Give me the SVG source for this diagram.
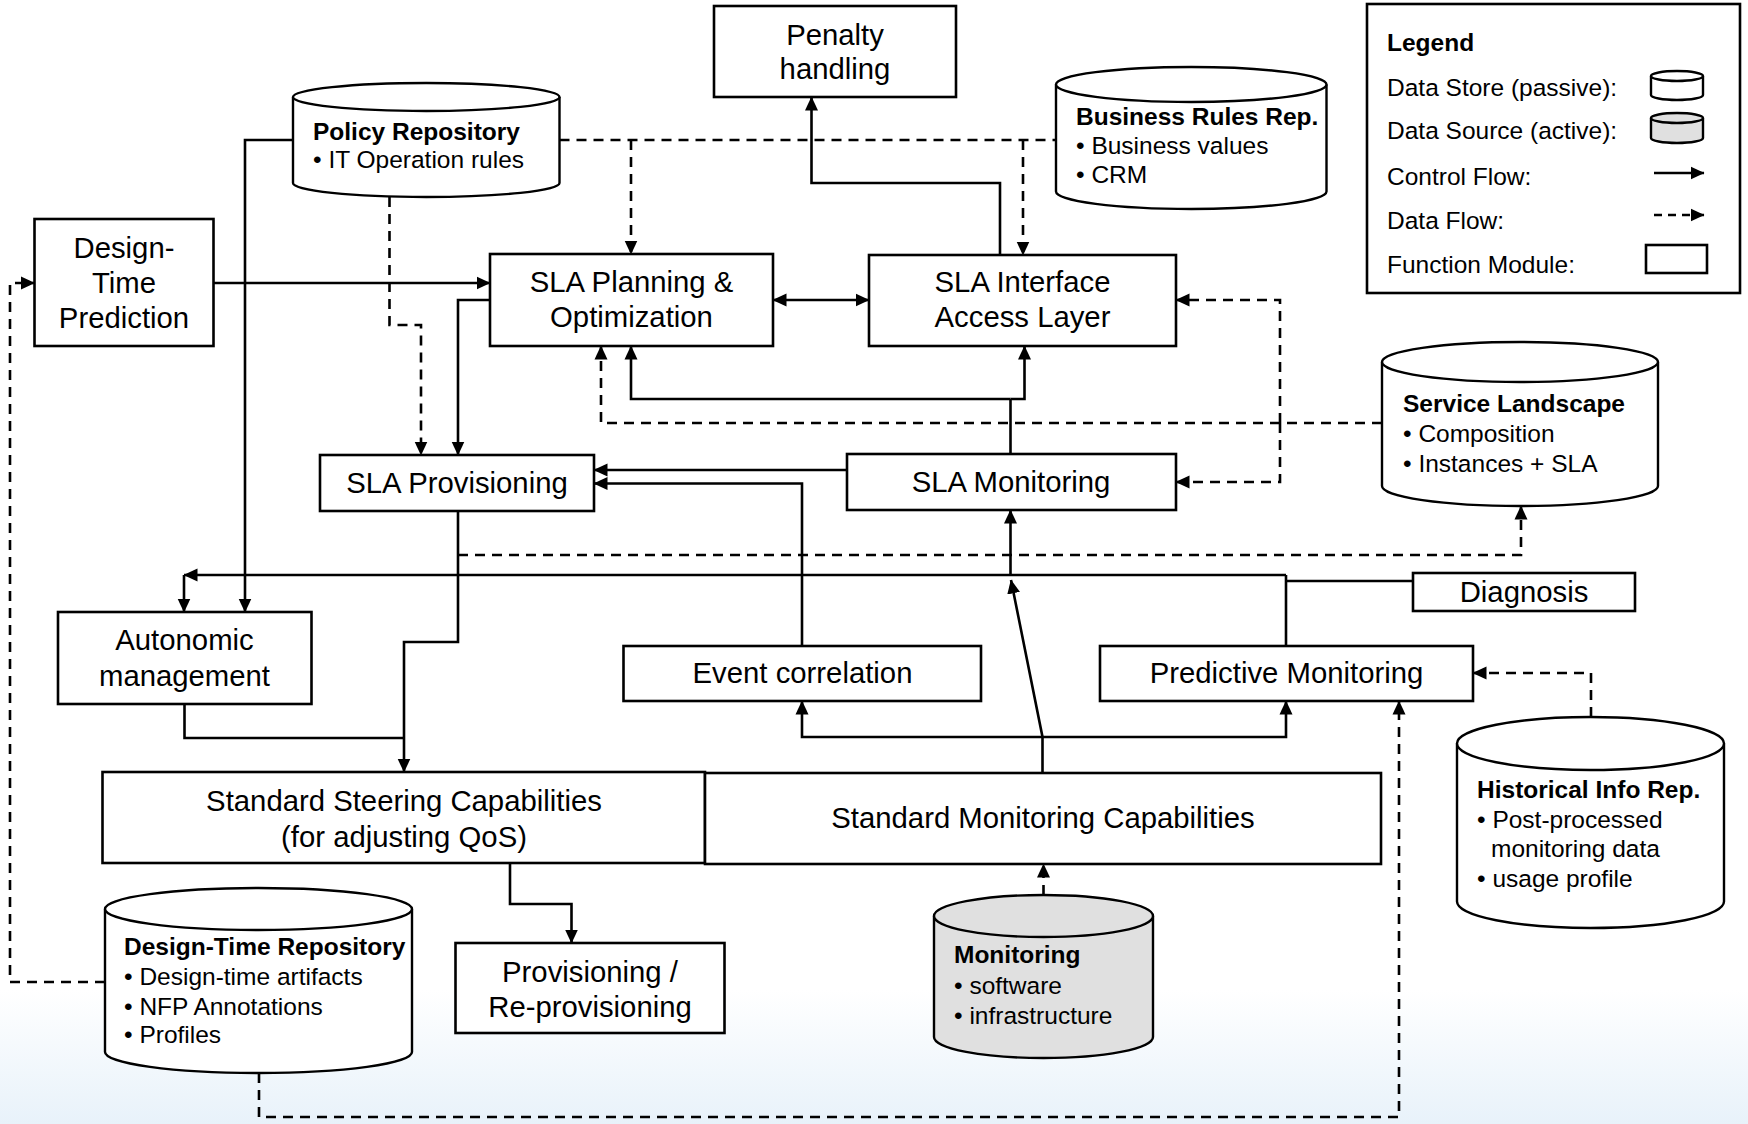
<svg xmlns="http://www.w3.org/2000/svg" width="1748" height="1124" viewBox="0 0 1748 1124">
  <defs>
    <style>
      .box { fill: #ffffff; stroke: #000000; stroke-width: 2.6; }
      .cyl { fill: #ffffff; stroke: #000000; stroke-width: 2.4; }
      .src { fill: #e0e0e0; }
      .c { fill: none; stroke: #000000; stroke-width: 2.6; }
      .d { fill: none; stroke: #000000; stroke-width: 2.6; stroke-dasharray: 10 7; }
      .ca { marker-end: url(#ah); }
      text { font-family: "Liberation Sans", Arial, Helvetica, sans-serif; fill: #000000; }
      .t { font-size: 29.3px; text-anchor: middle; }
      .s { font-size: 24.5px; }
      .b { font-weight: bold; }
    </style>
    <marker id="ah" viewBox="0 0 14 14" refX="13.5" refY="7" markerWidth="14" markerHeight="14" markerUnits="userSpaceOnUse" orient="auto-start-reverse">
      <path d="M0,0.5 L14,7 L0,13.5 z" fill="#000000"/>
    </marker>
    <linearGradient id="floor" x1="0" y1="0" x2="0" y2="1">
      <stop offset="0" stop-color="#ffffff"/>
      <stop offset="1" stop-color="#e8f2fa"/>
    </linearGradient>
  </defs>

  <!-- page background with a soft blue fade at the bottom -->
  <rect x="0" y="0" width="1748" height="1124" fill="#ffffff"/>
  <rect x="0" y="990" width="1748" height="134" fill="url(#floor)"/>

  <!-- connectors -->
  <g id="connectors">
    <!-- control flow -->
    <path class="c ca" d="M213.5,283 H490"/>
    <path class="c ca" d="M293,140 H245 V612"/>
    <path class="c ca" d="M490,300 H458 V455"/>
    <path class="c" d="M773,300 H869" marker-start="url(#ah)" marker-end="url(#ah)"/>
    <path class="c ca" d="M1000,255 V183 H811.5 V97"/>
    <path class="c ca" d="M1010.5,399 H1024.5 V346"/>
    <path class="c ca" d="M1010.5,399 H631 V346"/>
    <path class="c" d="M1010.5,454 V399"/>
    <path class="c ca" d="M847,470 H594"/>
    <path class="c ca" d="M802,646 V483.5 H594"/>
    <path class="c ca" d="M1010.5,575 V510"/>
    <path class="c ca" d="M1286,575 H184"/>
    <path class="c ca" d="M184,575 V612"/>
    <path class="c" d="M1413,581 H1286"/>
    <path class="c" d="M1286,575 V646"/>
    <path class="c ca" d="M1042.5,773 V737 L1011,580"/>
    <path class="c ca" d="M1042.5,737 H802 V701"/>
    <path class="c ca" d="M1042.5,737 H1286 V701"/>
    <path class="c" d="M184.5,704 V738 H404"/>
    <path class="c ca" d="M458,511 V642 H404 V772"/>
    <path class="c ca" d="M510,864 V904 H571.5 V943"/>

    <!-- data flow -->
    <path class="d" d="M559.5,140 H1056"/>
    <path class="d ca" d="M631,140 V254"/>
    <path class="d ca" d="M1023,140 V255"/>
    <path class="d ca" d="M389.5,197 V325 H421 V455"/>
    <path class="d ca" d="M1382,423 H601 V346"/>
    <path class="d ca" d="M1280,423 V300 H1176"/>
    <path class="d ca" d="M1280,423 V482 H1176"/>
    <path class="d ca" d="M458,555 H1521 V506"/>
    <path class="d ca" d="M1591,717 V673 H1473"/>
    <path class="d ca" d="M1043.5,895 V864"/>
    <path class="d ca" d="M259,1073 V1117 H1399 V701"/>
    <path class="d ca" d="M105,982 H10 V283 H34.5"/>
  </g>

  <!-- function modules -->
  <g id="penalty-handling">
    <rect class="box" x="714" y="6" width="242" height="91"/>
    <text class="t" x="835" y="45">Penalty</text>
    <text class="t" x="835" y="79">handling</text>
  </g>
  <g id="design-time-prediction">
    <rect class="box" x="34.5" y="219" width="179" height="127"/>
    <text class="t" x="124" y="258">Design-</text>
    <text class="t" x="124" y="293">Time</text>
    <text class="t" x="124" y="328">Prediction</text>
  </g>
  <g id="sla-planning">
    <rect class="box" x="490" y="254" width="283" height="92"/>
    <text class="t" x="631.5" y="292">SLA Planning &amp;</text>
    <text class="t" x="631.5" y="327">Optimization</text>
  </g>
  <g id="sla-interface">
    <rect class="box" x="869" y="255" width="307" height="91"/>
    <text class="t" x="1022.5" y="292">SLA Interface</text>
    <text class="t" x="1022.5" y="327">Access Layer</text>
  </g>
  <g id="sla-provisioning">
    <rect class="box" x="320" y="455" width="274" height="56"/>
    <text class="t" x="457" y="493">SLA Provisioning</text>
  </g>
  <g id="sla-monitoring">
    <rect class="box" x="847" y="454" width="329" height="56"/>
    <text class="t" x="1011" y="492">SLA Monitoring</text>
  </g>
  <g id="diagnosis">
    <rect class="box" x="1413" y="573" width="222" height="38"/>
    <text class="t" x="1524" y="602">Diagnosis</text>
  </g>
  <g id="autonomic-management">
    <rect class="box" x="58" y="612" width="253.5" height="92"/>
    <text class="t" x="184.5" y="650">Autonomic</text>
    <text class="t" x="184.5" y="686">management</text>
  </g>
  <g id="event-correlation">
    <rect class="box" x="623.5" y="646" width="357.5" height="55"/>
    <text class="t" x="802.5" y="683">Event correlation</text>
  </g>
  <g id="predictive-monitoring">
    <rect class="box" x="1100" y="646" width="373" height="55"/>
    <text class="t" x="1286.5" y="683">Predictive Monitoring</text>
  </g>
  <g id="standard-steering">
    <rect class="box" x="102.5" y="772" width="602.5" height="91"/>
    <text class="t" x="404" y="811">Standard Steering Capabilities</text>
    <text class="t" x="404" y="847">(for adjusting QoS)</text>
  </g>
  <g id="standard-monitoring">
    <rect class="box" x="705" y="773" width="676" height="91"/>
    <text class="t" x="1043" y="828">Standard Monitoring Capabilities</text>
  </g>
  <g id="provisioning">
    <rect class="box" x="455.5" y="943" width="269" height="90"/>
    <text class="t" x="590" y="982">Provisioning /</text>
    <text class="t" x="590" y="1017">Re-provisioning</text>
  </g>

  <!-- data stores -->
  <g id="policy-repository">
    <path class="cyl" d="M293,97 V183 A133.25,14 0 0 0 559.5,183 V97"/>
    <ellipse class="cyl" cx="426.25" cy="97" rx="133.25" ry="14"/>
    <text class="s b" x="313" y="140">Policy Repository</text>
    <text class="s" x="313" y="168">• IT Operation rules</text>
  </g>
  <g id="business-rules-rep">
    <path class="cyl" d="M1056,84.5 V191.5 A135.25,17.5 0 0 0 1326.5,191.5 V84.5"/>
    <ellipse class="cyl" cx="1191.25" cy="84.5" rx="135.25" ry="17.5"/>
    <text class="s b" x="1076" y="125">Business Rules Rep.</text>
    <text class="s" x="1076" y="154">• Business values</text>
    <text class="s" x="1076" y="183">• CRM</text>
  </g>
  <g id="service-landscape">
    <path class="cyl" d="M1382,362 V486 A138,20 0 0 0 1658,486 V362"/>
    <ellipse class="cyl" cx="1520" cy="362" rx="138" ry="20"/>
    <text class="s b" x="1403" y="412">Service Landscape</text>
    <text class="s" x="1403" y="442">• Composition</text>
    <text class="s" x="1403" y="472">• Instances + SLA</text>
  </g>
  <g id="historical-info-rep">
    <path class="cyl" d="M1457,743.5 V901.5 A133.5,26.5 0 0 0 1724,901.5 V743.5"/>
    <ellipse class="cyl" cx="1590.5" cy="743.5" rx="133.5" ry="26.5"/>
    <text class="s b" x="1477" y="798">Historical Info Rep.</text>
    <text class="s" x="1477" y="828">• Post-processed</text>
    <text class="s" x="1491" y="857">monitoring data</text>
    <text class="s" x="1477" y="887">• usage profile</text>
  </g>
  <g id="design-time-repository">
    <path class="cyl" d="M105,909 V1052 A153.5,21 0 0 0 412,1052 V909"/>
    <ellipse class="cyl" cx="258.5" cy="909" rx="153.5" ry="21"/>
    <text class="s b" x="124" y="955">Design-Time Repository</text>
    <text class="s" x="124" y="985">• Design-time artifacts</text>
    <text class="s" x="124" y="1015">• NFP Annotations</text>
    <text class="s" x="124" y="1043">• Profiles</text>
  </g>
  <g id="monitoring-source">
    <path class="cyl src" d="M934,916 V1037 A109.5,21 0 0 0 1153,1037 V916"/>
    <ellipse class="cyl src" cx="1043.5" cy="916" rx="109.5" ry="21"/>
    <text class="s b" x="954" y="963">Monitoring</text>
    <text class="s" x="954" y="994">• software</text>
    <text class="s" x="954" y="1024">• infrastructure</text>
  </g>

  <!-- legend -->
  <g id="legend">
    <rect class="box" x="1367" y="4" width="373" height="289"/>
    <text class="s b" x="1387" y="51">Legend</text>
    <text class="s" x="1387" y="96">Data Store (passive):</text>
    <text class="s" x="1387" y="139">Data Source (active):</text>
    <text class="s" x="1387" y="185">Control Flow:</text>
    <text class="s" x="1387" y="229">Data Flow:</text>
    <text class="s" x="1387" y="273">Function Module:</text>
    <path class="cyl" d="M1651,76 V95 A26,5 0 0 0 1703,95 V76"/>
    <ellipse class="cyl" cx="1677" cy="76" rx="26" ry="5"/>
    <path class="cyl src" d="M1651,118 V138 A26,5 0 0 0 1703,138 V118"/>
    <ellipse class="cyl src" cx="1677" cy="118" rx="26" ry="5"/>
    <path class="c ca" d="M1654,173 H1704"/>
    <path class="c ca" d="M1654,215 H1704" stroke-dasharray="8 6"/>
    <rect class="box" x="1646" y="245" width="61" height="28"/>
  </g>
</svg>
